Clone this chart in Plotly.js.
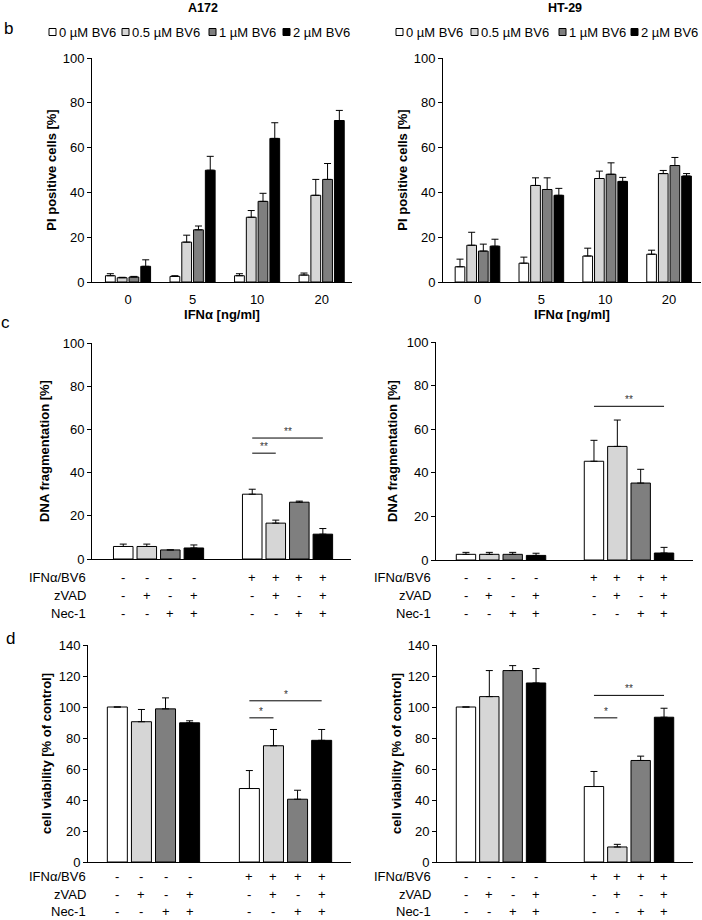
<!DOCTYPE html>
<html>
<head>
<meta charset="utf-8">
<script src="https://cdn.plot.ly/plotly-3.0.1.min.js"></script>
<style>html,body{margin:0;padding:0;background:#fff}</style>
</head>
<body>
<div id="fig" style="width:702px;height:920px"></div>
<script>
// series shared by all six panels
const seriesNames = ["0 µM BV6", "0.5 µM BV6", "1 µM BV6", "2 µM BV6"];
const fillColors = ["#ffffff", "#d6d6d6", "#7f7f7f", "#000000"];

// b: PI positive cells [%] vs IFNα dose, one row per BV6 dose
const ifnDoses = ["0", "5", "10", "20"];
const a172Pi = [[2.8, 2.5, 2.8, 3.1], [1.9, 17.8, 28.9, 38.7], [2.2, 23.3, 36.0, 45.8], [7.0, 49.9, 64.1, 72.1]];
const a172PiErr = [[0.9, 0.3, 0.9, 0.9], [0.2, 3.1, 3.0, 7.1], [0.3, 1.7, 3.6, 7.1], [2.9, 6.2, 7.0, 4.5]];
const ht29Pi = [[6.8, 8.4, 11.6, 12.4], [16.4, 43.1, 46.2, 48.4], [13.8, 41.3, 48.1, 52.0], [16.0, 38.7, 44.9, 47.3]];
const ht29PiErr = [[3.4, 2.7, 3.5, 1.8], [5.8, 3.4, 3.3, 1.4], [3.1, 5.2, 5.1, 3.6], [3.1, 3.1, 1.8, 1.1]];

// c, d: two groups (without / with IFNα/BV6), bars = none, zVAD, Nec-1, zVAD+Nec-1
const groups = ["control", "IFNα/BV6"];
const a172Dna = [[5.8, 30.0], [5.8, 16.6], [4.2, 26.3], [5.1, 11.5]];
const a172DnaErr = [[1.1, 2.3], [1.1, 1.4], [0, 0.5], [1.4, 2.6]];
const ht29Dna = [[2.6, 45.3], [2.6, 52.1], [2.6, 35.3], [2.1, 3.2]];
const ht29DnaErr = [[0.9, 9.6], [0.9, 12.1], [0.9, 6.3], [1.0, 2.6]];
const a172Via = [[100, 47.4], [90.5, 75.0], [98.8, 40.5], [89.8, 78.5]];
const a172ViaErr = [[0, 11.6], [7.9, 10.5], [7.1, 5.8], [1.3, 7.0]];
const ht29Via = [[100, 48.7], [106.7, 9.7], [123.5, 65.5], [115.5, 93.4]];
const ht29ViaErr = [[0, 9.7], [16.8, 1.7], [3.2, 2.8], [9.3, 5.8]];

// treatment table under c and d
const rowLabels = ["IFNα/BV6", "zVAD", "Nec-1"];
const rowSigns = [
  ["-", "-", "-", "-", "+", "+", "+", "+"],
  ["-", "+", "-", "+", "-", "+", "-", "+"],
  ["-", "-", "+", "+", "-", "-", "+", "+"]
];

// significance: [bar compared with bar 0 of the IFNα/BV6 group, height, label]
const a172DnaSig = [[1, 49, "**"], [3, 56, "**"]];
const ht29DnaSig = [[3, 70.5, "**"]];
const a172ViaSig = [[1, 93, "*"], [3, 104, "*"]];
const ht29ViaSig = [[1, 93, "*"], [3, 107.5, "**"]];

const W = 702, H = 920;
const FONT = "Liberation Sans, Arial, sans-serif";
const BARGAP = 0.27;
const px = v => v / W;
const py = v => 1 - v / H;
const barOffset = i => (i - 1.5) * (1 - BARGAP) / 4;

const panels = [
  {k: "", cats: ifnDoses, vals: a172Pi, errs: a172PiErr, xd: [92, 352], xr: [-0.558, 3.47], yd: [58, 282], ymax: 100,
   ytitle: "PI positive cells [%]", standoff: 3},
  {k: "2", cats: ifnDoses, vals: ht29Pi, errs: ht29PiErr, xd: [443, 701], xr: [-0.54, 3.5], yd: [58, 282], ymax: 100,
   ytitle: "PI positive cells [%]", standoff: 3},
  {k: "3", cats: groups, vals: a172Dna, errs: a172DnaErr, xd: [92, 351], xr: [-0.516, 1.492], yd: [343, 559], ymax: 100,
   ytitle: "DNA fragmentation [%]", standoff: 10, sig: a172DnaSig, rows: [577, 595, 613], lab: 88},
  {k: "4", cats: groups, vals: ht29Dna, errs: ht29DnaErr, xd: [436, 693], xr: [-0.508, 1.5], yd: [342, 560], ymax: 100,
   ytitle: "DNA fragmentation [%]", standoff: 6, sig: ht29DnaSig, rows: [577, 595, 613], lab: 433},
  {k: "5", cats: groups, vals: a172Via, errs: a172ViaErr, xd: [88, 351], xr: [-0.496, 1.496], yd: [645, 862], ymax: 140,
   ytitle: "cell viability [% of control]", standoff: 4, sig: a172ViaSig, rows: [876, 894, 911], lab: 88},
  {k: "6", cats: groups, vals: ht29Via, errs: ht29ViaErr, xd: [437, 693], xr: [-0.5, 1.5], yd: [645, 862], ymax: 140,
   ytitle: "cell viability [% of control]", standoff: 3, sig: ht29ViaSig, rows: [876, 894, 911], lab: 433}
];

const traces = [];
const annotations = [];
const shapes = [];
const layout = {
  width: W, height: H,
  margin: {l: 0, r: 0, t: 0, b: 0},
  paper_bgcolor: "#fff", plot_bgcolor: "rgba(0,0,0,0)",
  font: {family: FONT, size: 13, color: "#000"},
  barmode: "group", bargap: BARGAP, bargroupgap: 0.17,
  showlegend: false
};

panels.forEach(p => {
  const xa = "x" + p.k, ya = "y" + p.k;
  p.vals.forEach((v, i) => {
    traces.push({
      type: "bar", x: p.cats, y: v, name: seriesNames[i],
      xaxis: xa, yaxis: ya,
      marker: {color: fillColors[i], line: {color: "#000", width: 1}},
      error_y: {type: "data", symmetric: false, array: p.errs[i], arrayminus: p.errs[i].map(() => 0),
                color: "#000", thickness: 1, width: 3.5},
      hoverinfo: "skip"
    });
  });
  const top = p.k === "" || p.k === "2";
  layout["xaxis" + p.k] = {
    anchor: ya, domain: [px(p.xd[0]), px(p.xd[1])], range: p.xr, type: "category",
    showline: true, linecolor: "#000", linewidth: 1, showgrid: false, zeroline: false,
    ticks: "", showticklabels: top, tickfont: {size: 13}, ticklabelstandoff: 5,
    title: top ? {text: "<b>IFNα [ng/ml]</b>", font: {size: 13}, standoff: 0} : {text: ""},
    fixedrange: true
  };
  layout["yaxis" + p.k] = {
    anchor: xa, domain: [py(p.yd[1]), py(p.yd[0])], range: [0, p.ymax], dtick: 20,
    showline: true, linecolor: "#000", linewidth: 1, showgrid: false, zeroline: false,
    ticks: "outside", ticklen: 4, tickcolor: "#000", tickfont: {size: 13},
    title: {text: "<b>" + p.ytitle + "</b>", font: {size: 13}, standoff: p.standoff},
    fixedrange: true
  };

  if (p.rows) {
    // treatment table
    rowLabels.forEach((lab, r) => {
      annotations.push({xref: "paper", yref: "paper", x: px(p.lab), y: py(p.rows[r]),
        xanchor: "right", yanchor: "middle", text: lab, showarrow: false, font: {size: 13}});
      rowSigns[r].forEach((s, j) => {
        annotations.push({xref: xa, yref: "paper", x: Math.floor(j / 4) + barOffset(j % 4), y: py(p.rows[r]),
          xanchor: "center", yanchor: "middle", text: s, showarrow: false, font: {size: 13}});
      });
    });
    // significance lines
    p.sig.forEach(([to, h, lab]) => {
      const x0 = 1 + barOffset(0), x1 = 1 + barOffset(to);
      shapes.push({type: "line", xref: xa, yref: ya, x0: x0, x1: x1, y0: h, y1: h, line: {color: "#000", width: 1}});
      annotations.push({xref: xa, yref: ya, x: (x0 + x1) / 2, y: h, yanchor: "bottom", yshift: -1,
        text: lab, showarrow: false, font: {size: 10, color: "#333"}});
    });
  }
});

// cell line titles and panel letters
[["A172", 203], ["HT-29", 565]].forEach(([t, x]) => {
  annotations.push({xref: "paper", yref: "paper", x: px(x), y: py(8), text: "<b>" + t + "</b>",
    showarrow: false, xanchor: "center", yanchor: "middle", font: {size: 12.5}});
});
[["b", 8, 28], ["c", 5, 322], ["d", 10, 638]].forEach(([t, x, y]) => {
  annotations.push({xref: "paper", yref: "paper", x: px(x), y: py(y), text: t,
    showarrow: false, xanchor: "center", yanchor: "middle", font: {size: 17}});
});

// compact legends above panel b
const legendX = [[49, 122, 209, 283], [396, 471, 559, 631]];
legendX.forEach(xs => {
  xs.forEach((x, i) => {
    shapes.push({type: "rect", xref: "paper", yref: "paper", x0: px(x), x1: px(x + 7), y0: py(35.5), y1: py(28.5),
      fillcolor: fillColors[i], line: {color: "#000", width: 1}});
    annotations.push({xref: "paper", yref: "paper", x: px(x + 8), y: py(32), xanchor: "left", yanchor: "middle",
      text: seriesNames[i], showarrow: false, font: {size: 13}});
  });
});

layout.annotations = annotations;
layout.shapes = shapes;

Plotly.newPlot("fig", traces, layout, {staticPlot: true, displayModeBar: false});
</script>
</body>
</html>
